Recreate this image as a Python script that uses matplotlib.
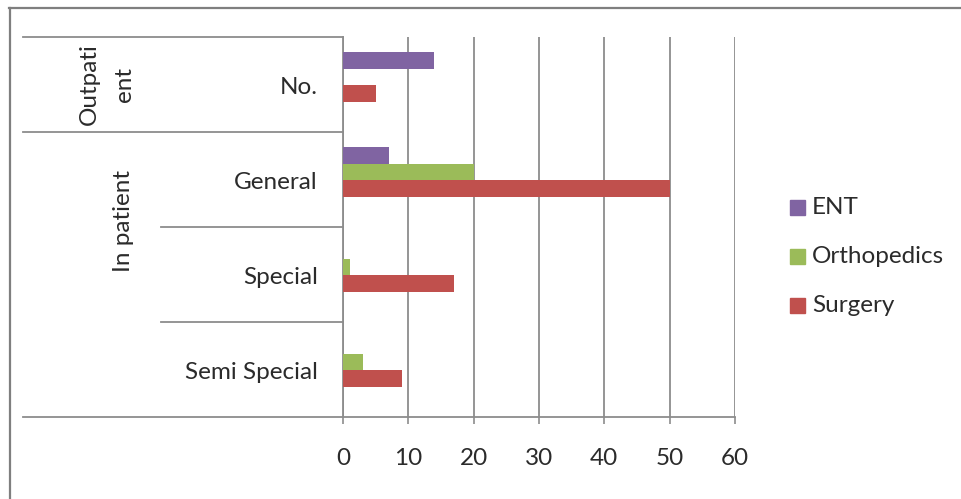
import matplotlib
matplotlib.use("Agg")
import matplotlib.pyplot as plt
from matplotlib.lines import Line2D
from matplotlib.patches import Rectangle
import numpy as np

# categories from top to bottom
sub_labels = ["No.", "General", "Special", "Semi Special"]
group_labels = ["Outpati\nent", "In patient"]
group_sizes = [1, 3]

series = ["ENT", "Orthopedics", "Surgery"]
ent = [14, 7, 0, 0]
ortho = [0, 20, 1, 3]
surgery = [5, 50, 17, 9]
colors = ["#8064A2", "#9BBB59", "#C0504D"]

xticks = [0, 10, 20, 30, 40, 50, 60]

W, H = 962, 499
plt.rcParams['font.family'] = ['Lato', 'DejaVu Sans']
fig = plt.figure(figsize=(W / 100, H / 100), dpi=100)

def fx(px):
    return px / W

def fy(py):
    return 1 - py / H

ax = fig.add_axes([fx(343), fy(417), fx(735) - fx(343), fy(37) - fy(417)])
grey = "#8c8c8c"
txt = "#2b2b2b"
fs = 17.5

bar_h = 0.176
start = 0.158
for j, (name, vals, c) in enumerate(zip(series, [ent, ortho, surgery], colors)):
    ys = np.arange(len(sub_labels)) + start + (j + 0.5) * bar_h
    ax.barh(ys, vals, height=bar_h, color=c, zorder=3)

ax.set_xlim(0, 60)
ax.set_ylim(len(sub_labels), 0)
ax.set_xticks(xticks)
ax.set_xticklabels([str(t) for t in xticks], fontsize=fs, color=txt)
ax.set_yticks([])
ax.tick_params(axis="x", length=5, width=1.2, color=grey, pad=17)
ax.xaxis.grid(True, color=grey, lw=1.3, zorder=0)
for s in ["top", "right"]:
    ax.spines[s].set_visible(False)
for s in ["left", "bottom"]:
    ax.spines[s].set_color(grey)
    ax.spines[s].set_linewidth(1.3)

# multi-level category axis on the left
tr = ax.get_yaxis_transform()
outer_x = (23 - 343) / 392
inner_x = (161 - 343) / 392
bounds = np.cumsum([0] + group_sizes)
for y in range(len(sub_labels) + 1):
    x0 = outer_x if y in bounds else inner_x
    ax.add_line(Line2D([x0, 0], [y, y], transform=tr, color=grey, lw=1.3, clip_on=False))

for k, lab in enumerate(sub_labels):
    ax.text(-0.064, k + 0.53, lab, transform=tr, ha="right", va="center",
            fontsize=fs, color=txt)

ax.text(-0.602, 0.5, group_labels[0], transform=tr, ha="center", va="center",
        rotation=90, fontsize=fs, color=txt, linespacing=1.8)
ax.text(-0.56, 1.94, group_labels[1], transform=tr, ha="center", va="center",
        rotation=90, fontsize=fs, color=txt)

# legend
leg_y = [207.5, 256.5, 305]
for name, c, ly in zip(series, colors, leg_y):
    fig.patches.append(Rectangle((fx(790), fy(ly + 7.5)), fx(15), 15 / H,
                                 transform=fig.transFigure, color=c))
    fig.text(fx(812), fy(ly), name, ha="left", va="center", fontsize=fs, color=txt)

# chart frame
fig.add_artist(Line2D([fx(9), 1], [fy(8), fy(8)], color="#7f7f7f", lw=1.6))
fig.add_artist(Line2D([fx(10), fx(10)], [fy(8), 0], color="#7f7f7f", lw=1.6))

fig.savefig("out.png", dpi=100)
